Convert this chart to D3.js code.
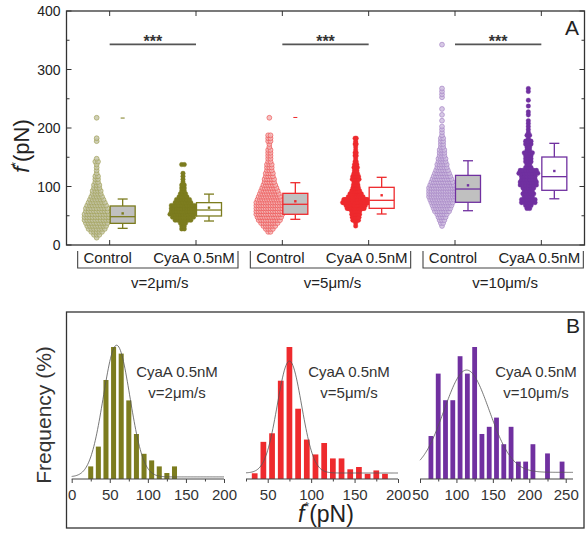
<!DOCTYPE html>
<html><head><meta charset="utf-8">
<script src="https://cdn.jsdelivr.net/npm/d3@7/dist/d3.min.js"></script>
<style>body{margin:0;background:#fff}svg{display:block}text{font-family:"Liberation Sans",Arial,sans-serif;fill:#222}</style>
</head><body>
<svg id="c" width="587" height="534"></svg>
<script>
// ---------- DATA ----------
const categories = ["Control","CyaA 0.5nM","Control","CyaA 0.5nM","Control","CyaA 0.5nM"];
const speeds = ["v=2μm/s","v=5μm/s","v=10μm/s"];
const yTicks = [0,100,200,300,400];
// swarm data: [value (pN), count]
const swarmCtrl2 = [[12.5,1],[17.5,3],[22.5,5],[27.5,7],[32.5,8],[37.5,9],[42.5,10],[47.5,10],[52.5,10],[57.5,9],[62.5,9],[67.5,8],[72.5,7],[77.5,6],[82.5,5],[87.5,4],[92.5,4],[97.5,3],[102.5,3],[107.5,2],[112.5,2],[117.5,2],[122.5,1],[127.5,1],[132.5,1],[137.5,1],[142.5,2],[147.5,1],[177.5,1],[182.5,1],[217.5,1]];
const swarmCyaA2 = [[27.5,2],[32.5,2],[37.5,3],[42.5,7],[47.5,9],[52.5,11],[57.5,10],[62.5,10],[67.5,10],[72.5,7],[77.5,6],[82.5,4],[87.5,3],[92.5,2],[97.5,2],[102.5,2],[107.5,1],[112.5,1],[117.5,1],[122.5,1],[137.5,2]];
const swarmCtrl5 = [[22.5,2],[27.5,4],[32.5,6],[37.5,8],[42.5,10],[47.5,11],[52.5,12],[57.5,12],[62.5,12],[67.5,12],[72.5,12],[77.5,11],[82.5,10],[87.5,9],[92.5,8],[97.5,7],[102.5,6],[107.5,5],[112.5,5],[117.5,4],[122.5,4],[127.5,3],[132.5,3],[137.5,3],[142.5,2],[147.5,2],[152.5,2],[157.5,2],[162.5,2],[167.5,1],[172.5,1],[177.5,2],[182.5,2],[187.5,2],[217.5,1]];
const swarmCyaA5 = [[32.5,1],[37.5,1],[42.5,6],[47.5,7],[52.5,8],[57.5,8],[62.5,16],[67.5,18],[72.5,24],[77.5,22],[82.5,14],[87.5,11],[92.5,8],[97.5,6],[102.5,5],[107.5,4],[112.5,7],[117.5,6],[122.5,4],[127.5,3],[132.5,4],[137.5,3],[142.5,2],[147.5,1],[152.5,2],[157.5,2],[162.5,1],[167.5,1],[172.5,2],[177.5,1],[182.5,2]];
const swarmCtrl10 = [[32.5,1],[37.5,2],[42.5,3],[47.5,4],[52.5,5],[57.5,7],[62.5,8],[67.5,9],[72.5,10],[77.5,11],[82.5,12],[87.5,12],[92.5,12],[97.5,12],[102.5,11],[107.5,10],[112.5,9],[117.5,8],[122.5,7],[127.5,6],[132.5,5],[137.5,5],[142.5,4],[147.5,4],[152.5,3],[157.5,3],[162.5,3],[167.5,2],[172.5,2],[177.5,2],[182.5,2],[187.5,1],[192.5,1],[197.5,1],[202.5,1],[212.5,1],[222.5,1],[232.5,1],[252.5,1],[257.5,1],[262.5,1],[267.5,1],[342.5,1]];
const swarmCyaA10 = [[62.5,2],[67.5,3],[72.5,6],[77.5,6],[82.5,4],[87.5,5],[92.5,4],[97.5,5],[102.5,7],[107.5,7],[112.5,6],[117.5,6],[122.5,8],[127.5,7],[132.5,3],[137.5,2],[142.5,3],[147.5,3],[152.5,3],[157.5,4],[162.5,2],[167.5,2],[172.5,3],[177.5,3],[182.5,1],[187.5,2],[192.5,1],[197.5,1],[202.5,1],[207.5,1],[212.5,1],[222.5,1],[227.5,1],[237.5,1],[247.5,1],[262.5,1],[267.5,1]];
const swarms = [swarmCtrl2, swarmCyaA2, swarmCtrl5, swarmCyaA5, swarmCtrl10, swarmCyaA10];
// box statistics per category
const boxQ1   = [37, 49.6, 52.5, 62.7, 73, 93.5];
const boxMed  = [48.4, 59.8, 69.6, 76.4, 95.7, 116.8];
const boxQ3   = [66.7, 72.4, 88.3, 98.6, 119, 150.4];
const whiskLo = [28.5, 41, 43.9, 53, 58.6, 79];
const whiskHi = [78.6, 87, 106.5, 115.7, 144, 173.8];
const boxMean = [54, 63.8, 74.7, 85, 102, 126.5];
const maxMark = [217, null, 218, null, null, null];
const sigLevel = 343, sigLabel = "***";
// histograms (panel B), frequency in %
const hist1Bins = [25,35,45,55,65,75,85,95,105,115,125,135];
const hist1Freq = [2.1,5.4,16.5,22.0,20.9,13.1,7.5,4.2,3.1,2.1,1.0,2.1];
const hist2Bins = [35,45,55,65,75,85,95,105,115,125,135,145,155,165,175,185];
const hist2Freq = [1.0,6.5,8.0,17.2,23.1,12.3,6.9,4.3,6.3,3.6,3.6,1.7,2.1,0.9,1.5,0.9];
const hist3Bins = [65,75,85,95,105,115,125,135,145,155,165,175,185,195,205,225,245];
const hist3Freq = [4.2,10.3,7.7,7.7,12.0,10.3,12.9,4.4,5.1,6.0,3.4,5.1,1.7,1.7,3.4,2.5,1.7];
const histDomains = [[0,200],[25,200],[50,260]];
const histTicks = [[0,50,100,150,200],[50,100,150,200],[50,100,150,200,250]];
const fitXc = [59, 75, 114], fitW = [17.5, 14, 31], fitA = [21.95, 19.6, 10.0], fitY0 = [0.35, 1.05, 0.65];

// ---------- STYLES ----------
const colors = ["#7c7c1e","#ee2a2d","#7030a0"];
const ctrlFill = ["#c4c4a6","#f4b4b4","#cdbbde"];
const ctrlStroke = ["#a2a25a","#ec5858","#a685c6"];
const font = '"Liberation Sans",Arial,sans-serif';

const svg = d3.select("#c");
// ---------- PANEL A ----------
const L = 66.5, R = 584.5, T = 11, B = 245;
const x = d3.scalePoint().domain(d3.range(6)).range([L, R]).padding(0.5);
const y = d3.scaleLinear().domain([0, 400]).range([B, T]);
const gA = svg.append("g");

// swarms
swarms.forEach((sw, i) => {
  const gi = Math.floor(i / 2), ctrl = i % 2 === 0;
  const maxN = d3.max(sw, d => d[1]);
  const maxW = 26;
  const sp = maxN > 1 ? Math.min(2.7, maxW / (maxN - 1)) : 0;
  const xc = x(i) - 13;
  const pts = [];
  sw.forEach(([v, n]) => { for (let k = 0; k < n; k++) pts.push({v, dx: (k - (n - 1) / 2) * sp}); });
  gA.append("g").selectAll("circle").data(pts).join("circle")
    .attr("cx", d => xc + d.dx).attr("cy", d => y(d.v)).attr("r", ctrl ? 2.4 : 2.3)
    .attr("fill", ctrl ? ctrlFill[gi] : colors[gi])
    .attr("fill-opacity", ctrl ? 0.8 : 1)
    .attr("stroke", ctrl ? ctrlStroke[gi] : colors[gi])
    .attr("stroke-width", ctrl ? 0.7 : 0.3);
});

// boxes
d3.range(6).forEach(i => {
  const gi = Math.floor(i / 2), ctrl = i % 2 === 0, c = colors[gi];
  const bx = x(i) + 13, bw = 25, cap = 10;
  const g = gA.append("g").attr("stroke", c).attr("stroke-width", 1.3).attr("fill", "none");
  g.append("line").attr("x1", bx).attr("x2", bx).attr("y1", y(whiskHi[i])).attr("y2", y(boxQ3[i]));
  g.append("line").attr("x1", bx).attr("x2", bx).attr("y1", y(whiskLo[i])).attr("y2", y(boxQ1[i]));
  g.append("line").attr("x1", bx - cap/2).attr("x2", bx + cap/2).attr("y1", y(whiskHi[i])).attr("y2", y(whiskHi[i]));
  g.append("line").attr("x1", bx - cap/2).attr("x2", bx + cap/2).attr("y1", y(whiskLo[i])).attr("y2", y(whiskLo[i]));
  g.append("rect").attr("x", bx - bw/2).attr("y", y(boxQ3[i])).attr("width", bw)
    .attr("height", y(boxQ1[i]) - y(boxQ3[i])).attr("fill", ctrl ? "#c0c0c0" : "#fff");
  g.append("line").attr("x1", bx - bw/2).attr("x2", bx + bw/2).attr("y1", y(boxMed[i])).attr("y2", y(boxMed[i]));
  g.append("rect").attr("x", bx - 1.2).attr("y", y(boxMean[i]) - 1.2).attr("width", 2.4).attr("height", 2.4)
    .attr("fill", c).attr("stroke", "none");
  if (maxMark[i] != null) g.append("line").attr("x1", bx - 2).attr("x2", bx + 2)
    .attr("y1", y(maxMark[i])).attr("y2", y(maxMark[i])).attr("stroke-width", 1);
});

// significance bars
d3.range(3).forEach(gi => {
  const x1 = x(2*gi), x2 = x(2*gi + 1);
  gA.append("line").attr("x1", x1).attr("x2", x2).attr("y1", y(sigLevel)).attr("y2", y(sigLevel))
    .attr("stroke", "#555").attr("stroke-width", 1.6);
  gA.append("text").attr("x", (x1 + x2) / 2).attr("y", y(sigLevel) + 3).attr("text-anchor", "middle")
    .attr("font-size", 16).attr("font-weight", "bold").style("fill", "#333").text(sigLabel);
});

// frame & axes
gA.append("rect").attr("x", L).attr("y", T).attr("width", R - L).attr("height", B - T)
  .attr("fill", "none").attr("stroke", "#333").attr("stroke-width", 1.3);
const yMinor = d3.range(0, 401, 50);
yMinor.forEach(v => {
  const len = v % 100 === 0 ? 5 : 3;
  gA.append("line").attr("x1", L).attr("x2", L + len).attr("y1", y(v)).attr("y2", y(v)).attr("stroke", "#333");
  gA.append("line").attr("x1", R).attr("x2", R - len).attr("y1", y(v)).attr("y2", y(v)).attr("stroke", "#333");
});
gA.selectAll(".ylab").data(yTicks).join("text").attr("class", "ylab")
  .attr("x", L - 6).attr("y", d => y(d) + 5).attr("text-anchor", "end").attr("font-size", 14).text(d => d);
d3.range(6).forEach(i => {
  gA.append("line").attr("x1", x(i)).attr("x2", x(i)).attr("y1", B).attr("y2", B - 5).attr("stroke", "#333");
  gA.append("line").attr("x1", x(i)).attr("x2", x(i)).attr("y1", T).attr("y2", T + 5).attr("stroke", "#333");
  gA.append("text").attr("x", x(i) - 2).attr("y", 263).attr("text-anchor", "middle").attr("font-size", 15)
    .text(categories[i]);
});
// group brackets
d3.range(3).forEach(gi => {
  const bl = x(2*gi) - 32, br = x(2*gi + 1) + 42;
  gA.append("path").attr("d", `M${bl},251V268H${br}V251`).attr("fill", "none").attr("stroke", "#444").attr("stroke-width", 1.1);
  gA.append("text").attr("x", (bl + br) / 2 + 2).attr("y", 288).attr("text-anchor", "middle").attr("font-size", 15)
    .text(speeds[gi]);
});
gA.append("text").attr("x", 572).attr("y", 35).attr("text-anchor", "middle").attr("font-size", 21).text("A");
// y title
const yt = gA.append("text").attr("transform", "translate(29,146) rotate(-90)").attr("text-anchor", "middle").attr("font-size", 22);
yt.append("tspan").attr("font-style", "italic").text("f");
yt.append("tspan").attr("dy", -9).attr("font-size", 12).text("*");
yt.append("tspan").attr("dy", 9).text("(pN)");

// ---------- PANEL B ----------
svg.append("rect").attr("x", 66.5).attr("y", 312).attr("width", 517.5).attr("height", 216)
  .attr("fill", "none").attr("stroke", "#333").attr("stroke-width", 1.3);
svg.append("text").attr("x", 573).attr("y", 333).attr("text-anchor", "middle").attr("font-size", 21).text("B");
svg.append("text").attr("transform", "translate(51,415) rotate(-90)").attr("text-anchor", "middle")
  .attr("font-size", 21).style("fill", "#333").text("Frequency (%)");
const xt = svg.append("text").attr("x", 326).attr("y", 522).attr("text-anchor", "middle").attr("font-size", 23);
xt.append("tspan").attr("font-style", "italic").text("f");
xt.append("tspan").attr("dy", -11).attr("font-size", 12).text("*");
xt.append("tspan").attr("dy", 11).text("(pN)");

const histRanges = [[71.7, 224], [246, 398], [420, 573]];
const histBins = [hist1Bins, hist2Bins, hist3Bins];
const histFreq = [hist1Freq, hist2Freq, hist3Freq];
const labCx = [177, 349, 536];
const base = 479, hMax = 132;
d3.range(3).forEach(p => {
  const hx = d3.scaleLinear().domain(histDomains[p]).range(histRanges[p]);
  const hy = d3.scaleLinear().domain([0, d3.max(histFreq[p])]).range([base, base - hMax]);
  const g = svg.append("g");
  const bw = (hx(10) - hx(0)) * 0.66;
  g.selectAll("rect").data(histBins[p].map((b, k) => ({b, f: histFreq[p][k]}))).join("rect")
    .attr("x", d => hx(d.b) - bw / 2).attr("width", bw)
    .attr("y", d => hy(d.f)).attr("height", d => base - hy(d.f)).attr("fill", colors[p]);
  // Gaussian fit
  const xs = d3.range(histDomains[p][0], histDomains[p][1] + 0.5, 1);
  const line = d3.line().x(v => hx(v)).y(v => hy(fitY0[p] + fitA[p] * Math.exp(-((v - fitXc[p]) ** 2) / (2 * fitW[p] ** 2))));
  g.append("path").attr("d", line(xs)).attr("fill", "none").attr("stroke", "#555").attr("stroke-width", 0.8);
  // axis
  const ax = d3.axisBottom(hx).tickValues(d3.range(Math.ceil(histDomains[p][0] / 25) * 25, histDomains[p][1] + 1, 25))
    .tickSize(4).tickFormat(v => histTicks[p].includes(v) ? v : "");
  const ag = g.append("g").attr("transform", `translate(0,${base})`).call(ax);
  ag.select(".domain").attr("stroke", "#444").attr("d", `M${histRanges[p][0]},0H${histRanges[p][1]}`);
  ag.selectAll(".tick line").attr("stroke", "#444").attr("y2", v => histTicks[p].includes(v) ? 4 : 2.5);
  ag.selectAll(".tick text").attr("font-size", 15).attr("font-family", font).style("fill", "#333").attr("dy", "0.9em");
  g.append("text").attr("x", labCx[p]).attr("y", 377).attr("text-anchor", "middle").attr("font-size", 15).style("fill", "#333").text("CyaA 0.5nM");
  g.append("text").attr("x", labCx[p]).attr("y", 398).attr("text-anchor", "middle").attr("font-size", 15).style("fill", "#333").text(speeds[p]);
});
</script>
</body></html>
